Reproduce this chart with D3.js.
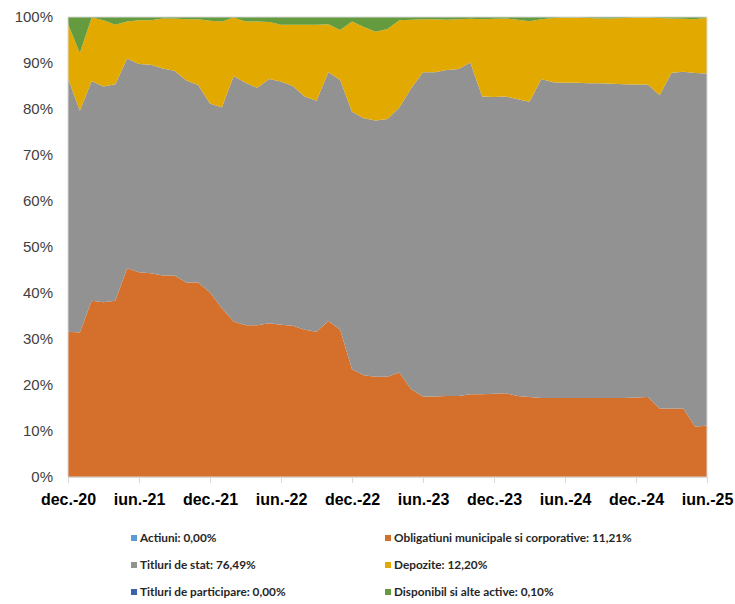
<!DOCTYPE html>
<html>
<head>
<meta charset="utf-8">
<script src="https://cdn.jsdelivr.net/npm/d3@7"></script>
<style>
  body { margin: 0; background: #fff; }
  svg { display: block; font-family: Lato, "Open Sans", sans-serif; }
</style>
</head>
<body>
<div id="chart"></div>
<script>
// luni, dec.-20 ... iun.-25
const months = [
  "dec.-20",
  "ian.-21","feb.-21","mar.-21","apr.-21","mai-21","iun.-21","iul.-21","aug.-21","sep.-21","oct.-21","noi.-21","dec.-21",
  "ian.-22","feb.-22","mar.-22","apr.-22","mai-22","iun.-22","iul.-22","aug.-22","sep.-22","oct.-22","noi.-22","dec.-22",
  "ian.-23","feb.-23","mar.-23","apr.-23","mai-23","iun.-23","iul.-23","aug.-23","sep.-23","oct.-23","noi.-23","dec.-23",
  "ian.-24","feb.-24","mar.-24","apr.-24","mai-24","iun.-24","iul.-24","aug.-24","sep.-24","oct.-24","noi.-24","dec.-24",
  "ian.-25","feb.-25","mar.-25","apr.-25","mai-25","iun.-25"
];
const tickLabels = ["dec.-20","iun.-21","dec.-21","iun.-22","dec.-22","iun.-23","dec.-23","iun.-24","dec.-24","iun.-25"];
const yTicks = [0, 10, 20, 30, 40, 50, 60, 70, 80, 90, 100];

// ponderi (%)
const actiuni = new Array(55).fill(0);
const obligatiuni = [
  31.6, 31.4, 38.3, 38.0, 38.3, 45.4, 44.5, 44.3, 43.8, 43.8, 42.3, 42.3, 40.1,
  36.7, 33.8, 33.0, 33.0, 33.4, 33.1, 32.9, 32.0, 31.6, 33.9, 32.0, 23.4,
  22.1, 21.8, 21.8, 22.7, 19.1, 17.5, 17.5, 17.6, 17.6, 18.0, 18.0, 18.1,
  18.2, 17.6, 17.4, 17.2, 17.2, 17.2, 17.2, 17.2, 17.2, 17.2, 17.2, 17.3,
  17.4, 14.9, 14.9, 14.9, 10.9, 11.21
];
const titluriStat = [
  55.1, 48.2, 47.8, 46.9, 47.1, 45.6, 45.3, 45.3, 45.0, 44.5, 43.9, 42.9, 41.1,
  43.6, 53.4, 52.7, 51.6, 53.1, 52.9, 52.1, 50.7, 50.2, 54.1, 54.3, 56.0,
  55.9, 55.7, 56.0, 57.6, 65.4, 70.5, 70.5, 70.9, 71.1, 72.1, 64.7, 64.5,
  64.5, 64.5, 64.2, 69.3, 68.6, 68.5, 68.5, 68.4, 68.4, 68.3, 68.2, 68.0,
  67.9, 68.1, 73.0, 73.2, 76.9, 76.49
];
const depozite = [
  11.8, 12.6, 13.8, 14.4, 12.9, 8.0, 9.5, 9.7, 10.9, 11.4, 13.3, 14.3, 18.0,
  18.7, 12.7, 13.3, 14.4, 12.4, 12.3, 13.3, 15.6, 16.5, 10.4, 10.9, 19.6,
  19.8, 19.3, 19.6, 19.0, 14.9, 11.5, 11.5, 10.9, 10.8, 9.5, 16.8, 17.0,
  17.0, 17.3, 17.5, 13.0, 14.0, 14.2, 14.2, 14.2, 14.1, 14.2, 14.4, 14.6,
  14.6, 16.8, 11.8, 11.5, 11.7, 12.20
];
const titluriParticipare = new Array(55).fill(0);
const disponibil = [
  1.5, 7.8, 0.1, 0.7, 1.7, 1.0, 0.7, 0.7, 0.3, 0.3, 0.5, 0.5, 0.8,
  1.0, 0.1, 1.0, 1.0, 1.1, 1.7, 1.7, 1.7, 1.7, 1.6, 2.8, 1.0,
  2.2, 3.2, 2.6, 0.7, 0.6, 0.5, 0.5, 0.6, 0.5, 0.4, 0.5, 0.4,
  0.3, 0.6, 0.9, 0.5, 0.2, 0.1, 0.1, 0.2, 0.3, 0.3, 0.2, 0.1,
  0.1, 0.2, 0.3, 0.4, 0.5, 0.10
];

const series = [
  { key: "Actiuni", values: actiuni, color: "#5b9bd5" },
  { key: "Obligatiuni municipale si corporative", values: obligatiuni, color: "#d4702b" },
  { key: "Titluri de stat", values: titluriStat, color: "#929292" },
  { key: "Depozite", values: depozite, color: "#e2aa00" },
  { key: "Titluri de participare", values: titluriParticipare, color: "#3b63ad" },
  { key: "Disponibil si alte active", values: disponibil, color: "#639b3e" }
];

const width = 735, height = 604;
const margin = { top: 17, right: 28, bottom: 127, left: 68 };

const svg = d3.select("#chart").append("svg")
  .attr("width", width)
  .attr("height", height);

const x = d3.scalePoint()
  .domain(months)
  .range([margin.left, width - margin.right]);

const y = d3.scaleLinear()
  .domain([0, 1])
  .range([height - margin.bottom, margin.top]);

// tabel pentru d3.stack
const table = months.map((m, i) => {
  const row = { month: m };
  series.forEach(s => row[s.key] = s.values[i]);
  return row;
});

const stack = d3.stack()
  .keys(series.map(s => s.key))
  .offset(d3.stackOffsetExpand);
const layers = stack(table);

const area = d3.area()
  .x(d => x(d.data.month))
  .y0(d => y(d[0]))
  .y1(d => y(d[1]));

svg.append("g")
  .selectAll("path")
  .data(layers)
  .join("path")
  .attr("d", area)
  .attr("fill", (d, i) => series[i].color);

// chenar zona grafic
svg.append("rect")
  .attr("x", margin.left)
  .attr("y", margin.top)
  .attr("width", width - margin.left - margin.right)
  .attr("height", height - margin.top - margin.bottom)
  .attr("fill", "none")
  .attr("stroke", "#d9d9d9")
  .attr("stroke-width", 1);

// axa X
const xAxis = svg.append("g")
  .attr("transform", `translate(0,${height - margin.bottom})`)
  .call(d3.axisBottom(x).tickValues(tickLabels).tickSize(6).tickSizeOuter(0).tickPadding(11));
xAxis.select(".domain").attr("stroke", "#d9d9d9");
xAxis.selectAll(".tick line").attr("stroke", "#d9d9d9");
xAxis.selectAll("text")
  .attr("fill", "#000")
  .style("font-size", "16px")
  .style("font-weight", "bold");

// axa Y
const yAxis = svg.append("g")
  .attr("transform", `translate(${margin.left},0)`)
  .call(d3.axisLeft(y).tickValues(yTicks.map(v => v / 100)).tickFormat(v => Math.round(v * 100) + "%").tickSize(0).tickPadding(15));
yAxis.select(".domain").remove();
yAxis.selectAll("text")
  .attr("fill", "#404040")
  .style("font-size", "15px");

// legenda
const legendCols = [131, 385];
const legendRows = [538, 565, 592];
const lastIdx = months.length - 1;
const legend = svg.append("g")
  .selectAll("g")
  .data(series)
  .join("g")
  .attr("transform", (d, i) => `translate(${legendCols[i % 2]},${legendRows[Math.floor(i / 2)]})`);

legend.append("rect")
  .attr("x", 0)
  .attr("y", -3)
  .attr("width", 6)
  .attr("height", 6)
  .attr("fill", d => d.color);

legend.append("text")
  .attr("x", 9)
  .attr("dy", "0.35em")
  .style("font-size", "11.8px")
  .style("font-weight", "bold")
  .attr("fill", "#262626")
  .text(d => `${d.key}: ${d.values[lastIdx].toFixed(2).replace(".", ",")}%`);
</script>
</body>
</html>
